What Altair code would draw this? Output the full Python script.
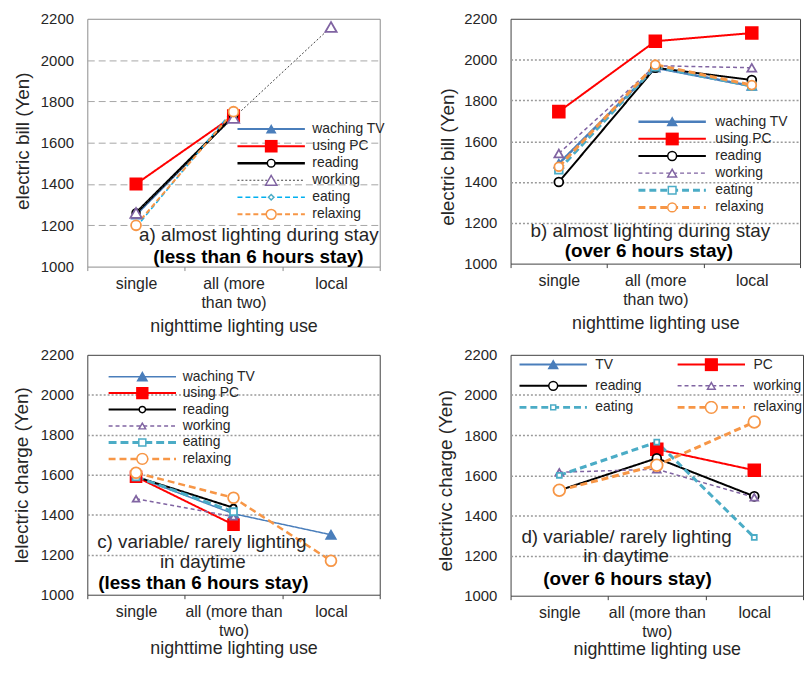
import altair as alt
import pandas as pd

# ---------------- data ----------------
CATS_AB = ["single", "all (more|than two)", "local"]
CATS_CD = ["single", "all (more than|two)", "local"]
SERIES_ABC = ["waching TV", "using PC", "reading", "working", "eating", "relaxing"]
SERIES_D = ["TV", "PC", "reading", "working", "eating", "relaxing"]
Y_TICKS = [1000, 1200, 1400, 1600, 1800, 2000, 2200]

# a) almost lighting during stay (less than 6 hours stay)
A_TV = [1250, 1730, None]
A_PC = [1400, 1730, None]
A_READING = [1260, 1730, None]
A_WORKING = [1260, 1720, 2160]
A_EATING = [1190, 1760, None]
A_RELAXING = [1200, 1750, None]

# b) almost lighting during stay (over 6 hours stay)
B_TV = [1490, 1960, 1870]
B_PC = [1745, 2090, 2130]
B_READING = [1400, 1960, 1900]
B_WORKING = [1540, 1970, 1960]
B_EATING = [1460, 1965, 1870]
B_RELAXING = [1475, 1975, 1875]

# c) variable/ rarely lighting in daytime (less than 6 hours stay)
C_TV = [1590, 1405, 1300]
C_PC = [1590, 1350, None]
C_READING = [1590, 1435, None]
C_WORKING = [1480, 1390, None]
C_EATING = [1590, 1415, None]
C_RELAXING = [1610, 1485, 1170]

# d) variable/ rarely lighting in daytime (over 6 hours stay)
D_TV = [None, None, None]
D_PC = [None, 1730, 1625]
D_READING = [1525, 1685, 1495]
D_WORKING = [1615, 1630, 1490]
D_EATING = [1600, 1765, 1290]
D_RELAXING = [1525, 1650, 1865]

X_TITLE = "nighttime lighting use"
Y_TITLES = ["electric bill (Yen)", "electric bill (Yen)",
            "lelectric charge (Yen)", "electrivc charge (Yen)"]
ANN_A = ["a) almost lighting during stay", "(less than 6 hours stay)"]
ANN_B = ["b) almost lighting during stay", "(over 6 hours stay)"]
ANN_C = ["c) variable/ rarely lighting", "in daytime", "(less than 6 hours stay)"]
ANN_D = ["d) variable/ rarely lighting", "in daytime", "(over 6 hours stay)"]

# ---------------- styles ----------------
BLUE, RED, BLACK, PURPLE = "#4a7ebb", "#ff0000", "#000000", "#8064a2"
TEAL, CYAN, ORANGE, WHITE = "#4bacc6", "#00b0f0", "#f79646", "#ffffff"
TXT = "#262626"
SOLID = [1, 0]

STYLE_A = dict(
    stroke=[BLUE, RED, BLACK, "#404040", CYAN, ORANGE],
    dash=[SOLID, SOLID, SOLID, [2, 2], [5, 3], [5, 3]],
    width=[2, 2, 2.5, 1, 1.5, 2],
    mcolor=[BLUE, RED, BLACK, PURPLE, TEAL, ORANGE],
    fill=[BLUE, RED, WHITE, WHITE, WHITE, WHITE],
    shape=["triangle-up", "square", "circle", "triangle-up", "diamond", "circle"],
    size=[70, 130, 60, 130, 30, 100],
)
STYLE_B = dict(
    stroke=[BLUE, RED, BLACK, PURPLE, TEAL, ORANGE],
    dash=[SOLID, SOLID, SOLID, [4, 3], [7, 4], [7, 4]],
    width=[2.5, 2, 2, 1.5, 3, 3],
    mcolor=[BLUE, RED, BLACK, PURPLE, TEAL, ORANGE],
    fill=[BLUE, RED, WHITE, WHITE, WHITE, WHITE],
    shape=["triangle-up", "square", "circle", "triangle-up", "square", "circle"],
    size=[80, 140, 80, 80, 60, 80],
)
STYLE_C = dict(
    stroke=[BLUE, RED, BLACK, PURPLE, TEAL, ORANGE],
    dash=[SOLID, SOLID, SOLID, [4, 3], [8, 4], [7, 4]],
    width=[1.5, 2, 2, 1.5, 3, 2.5],
    mcolor=[BLUE, RED, BLACK, PURPLE, TEAL, ORANGE],
    fill=[BLUE, RED, WHITE, WHITE, WHITE, WHITE],
    shape=["triangle-up", "square", "circle", "triangle-up", "square", "circle"],
    size=[90, 120, 40, 45, 50, 120],
)
STYLE_D = dict(
    stroke=[BLUE, RED, BLACK, PURPLE, TEAL, ORANGE],
    dash=[SOLID, SOLID, SOLID, [4, 3], [7, 4], [7, 4]],
    width=[2, 2, 2, 1.5, 3, 3],
    mcolor=[BLUE, RED, BLACK, PURPLE, TEAL, ORANGE],
    fill=[BLUE, RED, WHITE, WHITE, WHITE, WHITE],
    shape=["triangle-up", "square", "circle", "triangle-up", "square", "circle"],
    size=[80, 140, 80, 60, 25, 140],
)

DOTTED = dict(gridColor="#9a9a9a", gridDash=[2, 2], gridWidth=1.5, border="#404040")

GEO_A = dict(w=295, h=250, gridColor="#a6a6a6", gridDash=[7, 4], gridWidth=1,
             border="#8c8c8c", ytx=-65.5, yty=123, xty=60,
             lx=150, px=178.5, ly=104.8, rowpad=2.2, lofs=6, cols=1, dir="vertical",
             cpl=10, cpp=10,
             ann=[(173, 218, False), (172.5, 240, True)])
GEO_B = dict(w=292, h=247, ytx=-64, yty=139, xty=60,
             lx=127.5, px=156, ly=97.3, rowpad=2.3, lofs=8, cols=1, dir="vertical",
             cpl=10, cpp=10,
             ann=[(141, 214, False), (139.5, 234.3, True)], **DOTTED)
GEO_C = dict(w=295, h=242, ytx=-66.5, yty=121, xty=54,
             lx=20, px=48.5, ly=15.5, rowpad=1.6, lofs=5.2, cols=1, dir="vertical",
             cpl=10, cpp=10,
             ann=[(115.5, 189, False), (116.5, 209, False), (117, 230.3, True)],
             **DOTTED)
GEO_D = dict(w=295, h=243, ytx=-65.3, yty=126.5, xty=54,
             lx=7.5, px=36, ly=3.1, rowpad=6.7, lofs=7, cols=2, dir="horizontal",
             cpl=34.5, cpp=91.5,
             ann=[(117, 183.5, False), (116.5, 203.5, False), (118, 226, True)],
             **DOTTED)

CHANNELS = ["color", "fill", "shape", "size", "stroke", "strokeDash", "strokeWidth"]
INDEP = {c: "independent" for c in CHANNELS}


def panel(cats, series, values, ytitle, ann_text, st, g):
    rows = [{"cat": c, "series": s, "value": v}
            for s, vals in zip(series, values)
            for c, v in zip(cats, vals) if v is not None]
    df = pd.DataFrame(rows)

    x = alt.X("cat:N", title=X_TITLE, sort=cats, bandPosition=0.5,
              scale=alt.Scale(type="band", domain=cats, paddingInner=0, paddingOuter=0),
              axis=alt.Axis(labelAngle=0, labelExpr="split(datum.label, '|')",
                            labelFontSize=16, labelLineHeight=19, labelPadding=5,
                            labelColor=TXT, tickBand="extent", ticks=True, tickSize=4,
                            tickColor=g["border"], domain=False, grid=False,
                            titleFontSize=18, titleFontWeight="normal", titleColor=TXT,
                            titleY=g["xty"], titleBaseline="middle"))
    y = alt.Y("value:Q", title=ytitle,
              scale=alt.Scale(domain=[1000, 2200], nice=False, zero=False),
              axis=alt.Axis(values=Y_TICKS, format="d", ticks=False, domain=False,
                            labelPadding=14, labelFontSize=15, labelColor=TXT, grid=True,
                            gridColor=g["gridColor"], gridDash=g["gridDash"],
                            gridWidth=g["gridWidth"],
                            gridOpacity=alt.condition(
                                "datum.value <= 1000 || datum.value >= 2200",
                                alt.value(0), alt.value(1)),
                            titleFontSize=19, titleFontWeight="normal", titleColor=TXT,
                            titleX=g["ytx"], titleY=g["yty"], titleBaseline="middle"))

    common = dict(orient="none", title=None, clipHeight=13, rowPadding=g["rowpad"],
                  labelOffset=g["lofs"], labelFontSize=14, labelColor=TXT, padding=0,
                  columns=g["cols"], direction=g["dir"], legendY=g["ly"], labelLimit=200)
    line_leg = alt.Legend(legendX=g["lx"], symbolType="stroke", symbolSize=4624,
                          columnPadding=g["cpl"], **common)
    pt_leg = alt.Legend(legendX=g["px"], labelOpacity=0, columnPadding=g["cpp"], **common)

    def sc(rng, **kw):
        return alt.Scale(domain=series, range=rng, **kw)

    lines = alt.Chart(df).mark_line().encode(
        x=x, y=y,
        stroke=alt.Stroke("series:N", scale=sc(st["stroke"]), legend=line_leg),
        strokeDash=alt.StrokeDash("series:N", scale=sc(st["dash"]), legend=line_leg),
        strokeWidth=alt.StrokeWidth("series:N", scale=sc(st["width"], type="ordinal"),
                                    legend=line_leg),
    )
    points = alt.Chart(df).mark_point(filled=False, opacity=1, strokeWidth=1.8).encode(
        x=x, y=y,
        color=alt.Color("series:N", scale=sc(st["mcolor"]), legend=pt_leg),
        fill=alt.Fill("series:N", scale=sc(st["fill"]), legend=pt_leg),
        shape=alt.Shape("series:N", scale=sc(st["shape"]), legend=pt_leg),
        size=alt.Size("series:N", scale=sc(st["size"], type="ordinal"), legend=pt_leg),
    )
    texts = []
    for t, (tx, ty, bold) in zip(ann_text, g["ann"]):
        texts.append(
            alt.Chart(pd.DataFrame({"t": [t]})).mark_text(
                fontSize=19, fontWeight="bold" if bold else "normal",
                color="#000000" if bold else TXT, align="center", baseline="middle"
            ).encode(text="t:N", x=alt.value(tx), y=alt.value(ty))
        )
    return alt.layer(lines, points, *texts).resolve_legend(**INDEP).properties(
        width=g["w"], height=g["h"],
        view=alt.ViewBackground(stroke=g["border"], strokeWidth=1))


pa = panel(CATS_AB, SERIES_ABC, [A_TV, A_PC, A_READING, A_WORKING, A_EATING, A_RELAXING],
           Y_TITLES[0], ANN_A, STYLE_A, GEO_A)
pb = panel(CATS_AB, SERIES_ABC, [B_TV, B_PC, B_READING, B_WORKING, B_EATING, B_RELAXING],
           Y_TITLES[1], ANN_B, STYLE_B, GEO_B)
pc = panel(CATS_CD, SERIES_ABC, [C_TV, C_PC, C_READING, C_WORKING, C_EATING, C_RELAXING],
           Y_TITLES[2], ANN_C, STYLE_C, GEO_C)
pdd = panel(CATS_CD, SERIES_D, [D_TV, D_PC, D_READING, D_WORKING, D_EATING, D_RELAXING],
            Y_TITLES[3], ANN_D, STYLE_D, GEO_D)

chart = alt.concat(
    pa, pb, pc, pdd, columns=2, bounds="flush",
    spacing={"row": 89, "column": 132},
).resolve_scale(**INDEP).resolve_legend(**INDEP).properties(
    padding={"left": 3, "top": 0, "right": 0, "bottom": 0}
).configure(font="Liberation Sans").configure_view(fill="white")

chart.save("out.html", embed_options={"renderer": "svg", "actions": False})
